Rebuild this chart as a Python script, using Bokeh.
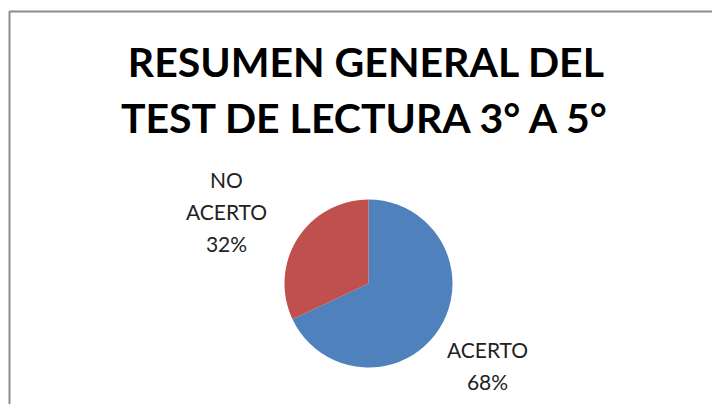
import math
from bokeh.plotting import figure
from bokeh.models import ColumnDataSource
from bokeh.core.properties import value
from bokeh.embed import file_html
from bokeh.resources import INLINE

# ---- data ----
categories = ["ACERTO", "NO ACERTO"]
percents = [68, 32]
colors = ["#4F81BD", "#C0504D"]
title_lines = ["RESUMEN GENERAL DEL", "TEST DE LECTURA 3° A 5°"]

W, H = 712, 404
p = figure(width=W, height=H, x_range=(0, W), y_range=(0, H),
           output_backend="svg", toolbar_location=None, min_border=0)
p.axis.visible = False
p.grid.visible = False
p.outline_line_color = None
p.background_fill_color = "white"
p.border_fill_color = "white"

def Y(py):
    return 404 - py

# chart area border (extends beyond the visible window)
p.quad(left=[9], right=[900], top=[Y(11)], bottom=[Y(600)],
       fill_color=None, line_color="#8C8C8C", line_width=2)

# pie
total = sum(percents)
start = math.pi / 2
starts, ends = [], []
for v in percents:
    a = 2 * math.pi * v / total
    ends.append(start)
    starts.append(start - a)
    start -= a
src = ColumnDataSource(dict(cat=categories, pct=percents, color=colors,
                            start=starts, end=ends))
p.wedge(x=368, y=Y(283), radius=84, start_angle="start", end_angle="end",
        color="color", line_color=None, source=src)

# title
p.text(x=[366, 366], y=[Y(61), Y(117)], text=title_lines,
       text_font=value("Lato"), text_font_style="bold", text_font_size="41px",
       text_align="center", text_baseline="alphabetic", text_color="black")

# data labels
lab_nc = ["NO", "ACERTO", f"{percents[1]}%"]
p.text(x=[226] * 3, y=[Y(179), Y(211), Y(243)], text=lab_nc,
       text_font=value("Lato"), text_font_size="21px",
       text_align="center", text_baseline="alphabetic", text_color="#222222")
lab_a = ["ACERTO", f"{percents[0]}%"]
p.text(x=[487] * 2, y=[Y(349), Y(381)], text=lab_a,
       text_font=value("Lato"), text_font_size="21px",
       text_align="center", text_baseline="alphabetic", text_color="#222222")

open("out.html", "w").write(file_html(p, INLINE))
